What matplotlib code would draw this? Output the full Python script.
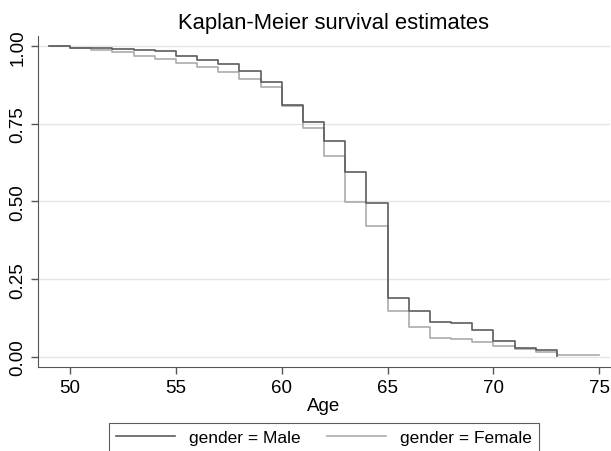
import numpy as np
import matplotlib
matplotlib.use("Agg")
from matplotlib import pyplot as plt

plt.rcParams["font.family"] = ["Liberation Sans", "DejaVu Sans"]

# Kaplan-Meier step estimates (value from each age onward)
male_age = [49, 50, 51, 52, 53, 54, 55, 56, 57, 58, 59, 60, 61, 62, 63, 64,
            65, 66, 67, 68, 69, 70, 71, 72, 73]
male_surv = [1.0, 0.9955, 0.9935, 0.991, 0.988, 0.985, 0.968, 0.957, 0.943,
             0.921, 0.884, 0.810, 0.755, 0.696, 0.594, 0.496,
             0.190, 0.147, 0.113, 0.109, 0.085, 0.051, 0.027, 0.023, 0.004]

female_age = [49, 50, 51, 52, 53, 54, 55, 56, 57, 58, 59, 60, 61, 62, 63, 64,
              65, 66, 67, 68, 69, 70, 71, 72, 73, 75]
female_surv = [1.0, 0.9945, 0.989, 0.981, 0.970, 0.960, 0.946, 0.934, 0.918,
               0.894, 0.869, 0.809, 0.738, 0.648, 0.497, 0.420,
               0.147, 0.095, 0.061, 0.057, 0.046, 0.034, 0.025, 0.016, 0.005, 0.005]

x_ticks = [50, 55, 60, 65, 70, 75]
y_ticks = [0.0, 0.25, 0.5, 0.75, 1.0]
y_labels = ["0.00", "0.25", "0.50", "0.75", "1.00"]

fig = plt.figure(figsize=(6.11, 4.52), dpi=100)
ax = fig.add_axes([0.0627, 0.1865, 0.9353, 0.731])

ax.step(male_age, male_surv, where="post", color="#5c5c5c", lw=1.2,
        label="gender = Male", zorder=3)
ax.step(female_age, female_surv, where="post", color="#ababab", lw=1.2,
        label="gender = Female", zorder=2)

ax.set_xlim(48.5, 75.5)
ax.set_ylim(-0.032, 1.032)
ax.set_xticks(x_ticks)
ax.set_yticks(y_ticks)
ax.set_yticklabels(y_labels, rotation=90, va="center")
ax.tick_params(axis="both", labelsize=13.5, length=5, width=1, color="#555555")
ax.grid(axis="y", color="#e4e4e4", lw=1)
ax.set_axisbelow(True)
for side in ["top", "right"]:
    ax.spines[side].set_visible(False)
for side in ["left", "bottom"]:
    ax.spines[side].set_color("#555555")

ax.set_xlabel("Age", fontsize=13.5, labelpad=1)
fig.text(0.546, 0.936, "Kaplan-Meier survival estimates", fontsize=15.8,
         ha="center", va="baseline")

leg = fig.legend(loc="upper center", bbox_to_anchor=(0.530, 0.0619), ncol=2,
                 fontsize=12.5, frameon=True, fancybox=False, edgecolor="#333333",
                 handlelength=3.4, handletextpad=0.8, columnspacing=1.55,
                 borderpad=0.4, borderaxespad=0)
leg.get_frame().set_linewidth(0.8)

fig.savefig("out.png", dpi=100)
plt.close(fig)
